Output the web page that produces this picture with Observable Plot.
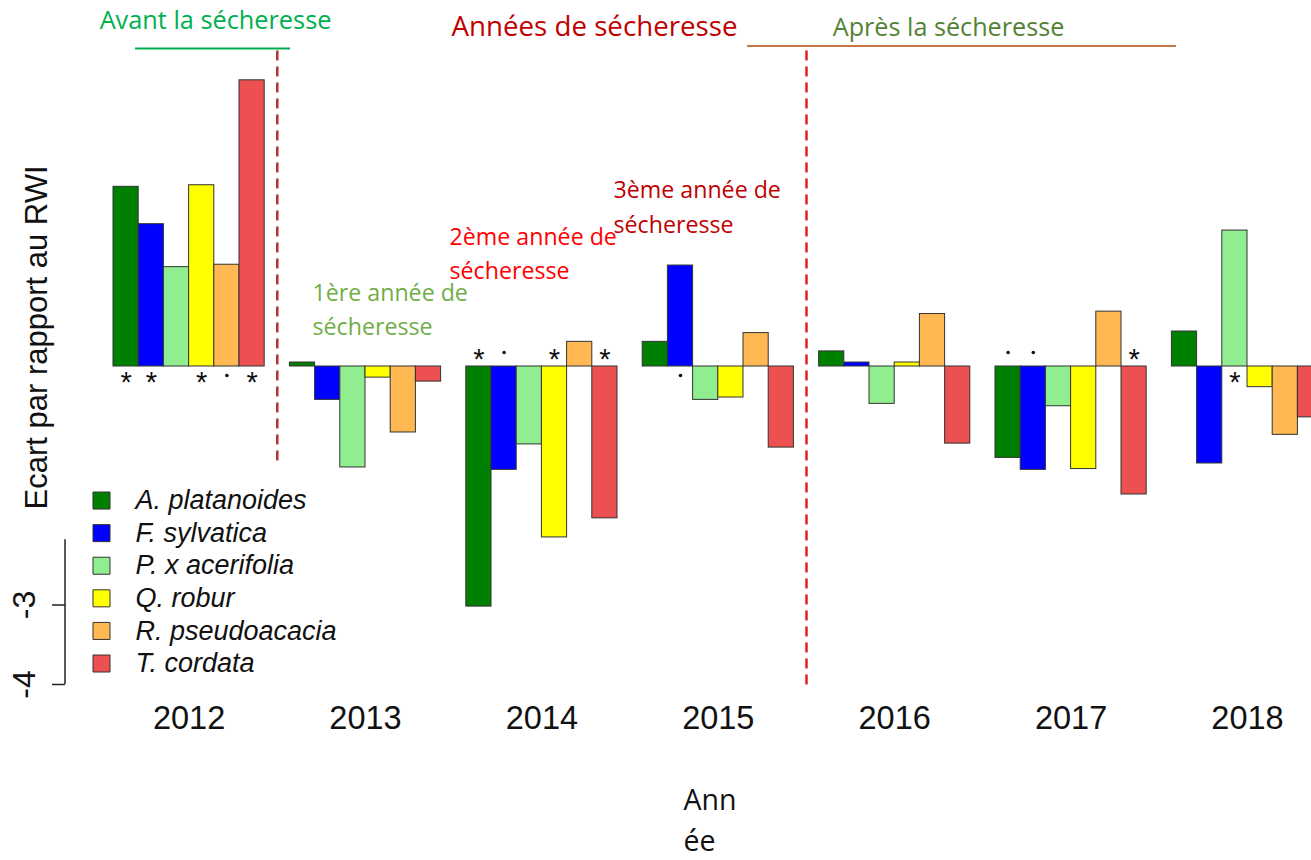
<!DOCTYPE html>
<html>
<head>
<meta charset="utf-8">
<script src="https://cdn.jsdelivr.net/npm/d3@7"></script>
<script src="https://cdn.jsdelivr.net/npm/@observablehq/plot@0.6"></script>
<style>
  html, body { margin: 0; padding: 0; background: white; overflow: hidden; }
</style>
</head>
<body>
<div id="chart"></div>
<script>
// ---- data ----
const years = [2012, 2013, 2014, 2015, 2016, 2017, 2018];
const species = ["A. platanoides", "F. sylvatica", "P. x acerifolia", "Q. robur", "R. pseudoacacia", "T. cordata"];
const speciesColors = ["#008000", "#0000ff", "#90ee90", "#ffff00", "#ffb852", "#ec5050"];

const aPlatanoides   = [2.26,  0.05, -3.02,  0.31,  0.19, -1.15,  0.44];
const fSylvatica     = [1.79, -0.42, -1.30,  1.27,  0.05, -1.30, -1.22];
const pAcerifolia    = [1.25, -1.27, -0.98, -0.42, -0.47, -0.50,  1.71];
const qRobur         = [2.28, -0.14, -2.15, -0.39,  0.05, -1.29, -0.26];
const rPseudoacacia  = [1.28, -0.83,  0.31,  0.42,  0.66,  0.69, -0.86];
const tCordata       = [3.60, -0.19, -1.91, -1.02, -0.97, -1.61, -0.64];

// significance marks ("*" or "." ) per species, per year
const sigAPlatanoides  = ["*", "", "*", "",  "", ".", ""];
const sigFSylvatica    = ["*", "", ".", ".", "", ".", ""];
const sigPAcerifolia   = ["",  "", "",  "",  "", "",  "*"];
const sigQRobur        = ["*", "", "*", "",  "", "",  ""];
const sigRPseudoacacia = [".", "", "",  "",  "", "",  ""];
const sigTCordata      = ["*", "", "*", "",  "", "*", ""];

const yTicks = [-3, -4];

// ---- build table ----
const seriesValues = [aPlatanoides, fSylvatica, pAcerifolia, qRobur, rPseudoacacia, tCordata];
const seriesSig = [sigAPlatanoides, sigFSylvatica, sigPAcerifolia, sigQRobur, sigRPseudoacacia, sigTCordata];
const rows = years.flatMap((yr, j) => species.map((sp, i) => ({
  year: yr, species: sp, key: `${yr}|${sp}`, value: seriesValues[i][j], sig: seriesSig[i][j]
})));
const xDomain = years.flatMap((yr, j) => j < years.length - 1
  ? [...species.map(sp => `${yr}|${sp}`), `${yr}|gap`]
  : species.map(sp => `${yr}|${sp}`));

const ML = 65;
const place = (px, py) => ({frameAnchor: "top-left", dx: px - ML, dy: py});
const legendY = (i) => -1.686 - i * 0.41;

const officeFont = "Open Sans";

const chart = Plot.plot({
  width: 1311,
  height: 860,
  marginLeft: ML,
  marginRight: 0,
  marginTop: 0,
  marginBottom: 0,
  style: {fontFamily: "Liberation Sans", background: "white", overflow: "hidden"},
  x: {type: "band", domain: xDomain, range: [113, 1322.6], padding: 0, round: false, axis: null},
  y: {domain: [-4, 4], range: [684, 48], axis: null},
  color: {domain: species, range: speciesColors},
  marks: [
    // header lines
    Plot.ruleY([4], {insetLeft: 135 - ML, insetRight: 1311 - 290, stroke: "#00b050", strokeWidth: 2}),
    Plot.ruleY([4.03], {insetLeft: 747 - ML, insetRight: 1311 - 1176, stroke: "#c4773f", strokeWidth: 2}),
    // dashed separators
    Plot.ruleX(["2012|gap"], {x: d => d, y1: 3.97, y2: -1.21, stroke: "#b03333", strokeWidth: 2.5, strokeDasharray: "10,6"}),
    Plot.ruleX(["2015|gap"], {x: d => d, y1: 3.97, y2: -4.05, stroke: "#e02424", strokeWidth: 2.5, strokeDasharray: "10,6"}),
    // bars
    Plot.barY(rows, {x: "key", y: "value", fill: "species", stroke: "#333", strokeWidth: 1}),
    // significance: asterisks
    Plot.text(rows.filter(d => d.sig === "*" && d.value >= 0), {x: "key", y: () => 0, text: () => "*", dy: 16, fontSize: 29, fill: "#111", lineAnchor: "middle"}),
    Plot.text(rows.filter(d => d.sig === "*" && d.value < 0), {x: "key", y: () => 0, text: () => "*", dy: -6.5, fontSize: 29, fill: "#111", lineAnchor: "middle"}),
    // significance: dots
    Plot.dot(rows.filter(d => d.sig === "." && d.value >= 0), {x: "key", y: () => 0, dy: 9, r: 1.8, fill: "#111"}),
    Plot.dot(rows.filter(d => d.sig === "." && d.value < 0), {x: "key", y: () => 0, dy: -14, r: 1.8, fill: "#111"}),
    // year labels
    Plot.text(years, {x: d => `${d}|Q. robur`, text: d => String(d), frameAnchor: "top", dy: 718, dx: -12.6, fontSize: 32.5, fill: "#111", lineAnchor: "middle"}),
    // y axis ticks and labels
    Plot.ruleY(yTicks, {insetLeft: -13, insetRight: 1311 - ML, stroke: "#222", strokeWidth: 1.5}),
    Plot.text(yTicks, {y: d => d, text: d => String(d), frameAnchor: "left", dx: -41, rotate: -90, fontSize: 32, fill: "#111", textAnchor: "middle", lineAnchor: "middle"}),
    // y label
    Plot.text(["Ecart par rapport au RWI"], {text: d => d, ...place(37, 337), rotate: -90, fontSize: 31, fill: "#111", textAnchor: "middle", lineAnchor: "middle"}),
    // legend
    Plot.dot(species, {y: (d, i) => legendY(i), frameAnchor: "left", dx: 36, symbol: "square", r: 9.6, fill: d => d, stroke: "#333", strokeWidth: 1}),
    Plot.text(species, {y: (d, i) => legendY(i), text: d => d, frameAnchor: "left", dx: 70, textAnchor: "start", lineAnchor: "middle", fontStyle: "italic", fontSize: 27, fill: "#111"}),
    // headers
    Plot.text(["Avant la sécheresse"], {text: d => d, ...place(215, 20), textAnchor: "middle", lineAnchor: "middle", fontFamily: officeFont, fontSize: 25.3, fill: "#00b050"}),
    Plot.text(["Années de sécheresse"], {text: d => d, ...place(594, 27), textAnchor: "middle", lineAnchor: "middle", fontFamily: officeFont, fontSize: 27.7, fill: "#c00000"}),
    Plot.text(["Après la sécheresse"], {text: d => d, ...place(948, 27), textAnchor: "middle", lineAnchor: "middle", fontFamily: officeFont, fontSize: 25.2, fill: "#548235"}),
    // annotations
    Plot.text(["1ère année de\nsécheresse"], {text: d => d, ...place(312, 306.5), textAnchor: "start", lineAnchor: "middle", lineHeight: 1.46, fontFamily: officeFont, fontSize: 23.2, fill: "#70ad47"}),
    Plot.text(["2ème année de\nsécheresse"], {text: d => d, ...place(449, 250.5), textAnchor: "start", lineAnchor: "middle", lineHeight: 1.46, fontFamily: officeFont, fontSize: 23.2, fill: "#ff0000"}),
    Plot.text(["3ème année de\nsécheresse"], {text: d => d, ...place(613, 204), textAnchor: "start", lineAnchor: "middle", lineHeight: 1.5, fontFamily: officeFont, fontSize: 23.2, fill: "#c00000"}),
    // x title
    Plot.text(["Ann\née"], {text: d => d, ...place(683, 817), textAnchor: "start", lineAnchor: "middle", lineHeight: 1.45, fontFamily: officeFont, fontSize: 28.5, fill: "#111"})
  ]
});

// y-axis domain line (partial, as in the reference)
const yScale = chart.scale("y");
d3.select(chart).append("line")
  .attr("x1", ML).attr("x2", ML)
  .attr("y1", yScale.apply(-2.18)).attr("y2", yScale.apply(-4))
  .attr("stroke", "#222").attr("stroke-width", 1.5);

document.getElementById("chart").appendChild(chart);
</script>
</body>
</html>
